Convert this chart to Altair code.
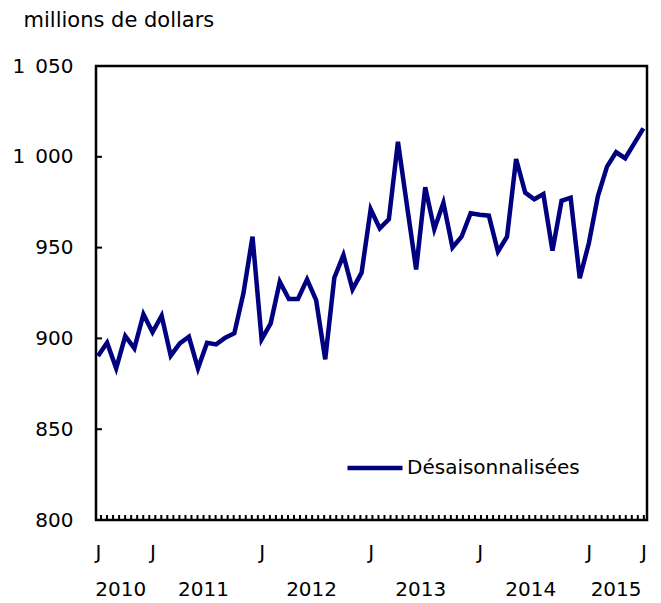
import altair as alt
import pandas as pd

# ---- data ----
values = [890.3, 897.6, 883.5, 901.3, 894.5, 913.3, 903.4, 912.5, 890.5, 897.3,
          900.9, 883.5, 897.6, 896.7, 900.4, 902.8, 924.8, 956.0, 899.5, 908.3,
          931.2, 921.7, 921.7, 932.5, 921.1, 888.5, 933.4, 945.9, 927.0, 936.2,
          971.1, 960.6, 965.6, 1008.3, 973.0, 938.0, 983.2, 960.1, 974.7, 950.1,
          956.0, 968.9, 968.1, 967.6, 947.8, 956.0, 998.8, 980.3, 976.6, 979.5,
          948.3, 975.8, 977.5, 933.1, 952.4, 978.4, 994.6, 1002.5, 999.2, 1007.4,
          1015.7]
months = list(range(len(values)))
j_ticks = [0, 6, 18, 30, 42, 54, 60]
years = ["2010", "2011", "2012", "2013", "2014", "2015"]
year_pos = [2.5, 11.6, 23.5, 35.5, 47.6, 57.0]
y_ticks = [800, 850, 900, 950, 1000, 1050]
inner_y_ticks = [850, 900, 950, 1000]
minor_ticks = [round(0.33 + k * 0.6636, 3) for k in range(91)]
series_name = "Désaisonnalisées"
y_title = "millions de dollars"

W, H = 551, 454
FONT = "DejaVu Sans"
FS = 20
COLOR = "#000080"

df = pd.DataFrame({"m": months, "v": values, "s": series_name})
xs = alt.Scale(domain=[-0.22, 60.4], nice=False, zero=False)
ys = alt.Scale(domain=[800, 1050], nice=False, zero=False)

line = alt.Chart(df).mark_line(strokeWidth=4.5, strokeJoin="miter").encode(
    x=alt.X("m:Q", scale=xs, axis=alt.Axis(
        values=j_ticks, labelExpr="'J'", ticks=False, domain=False, grid=False,
        labelPadding=22, labelFontSize=FS, labelFont=FONT, labelColor="black",
        labelFlush=False, title=None)),
    y=alt.Y("v:Q", scale=ys, axis=alt.Axis(
        values=y_ticks,
        labelExpr="replace(format(datum.value, ','), ',', '\u2002')",
        ticks=False, domain=False, grid=False, labelPadding=23,
        labelFontSize=FS, labelFont=FONT, labelColor="black",
        title=y_title, titleAngle=0, titleX=-73, titleY=-40, titleAlign="left",
        titleBaseline="alphabetic", titleFont=FONT, titleFontSize=21,
        titleFontWeight="normal", titleColor="black")),
    color=alt.Color("s:N", scale=alt.Scale(range=[COLOR]), legend=alt.Legend(
        title=None, orient="none", legendX=249, legendY=372, padding=0,
        symbolType="stroke", symbolSize=3025, symbolStrokeWidth=4.5,
        labelFont=FONT, labelFontSize=FS, labelColor="black", labelOffset=2,
        labelLimit=0)),
)

xt = alt.Chart(pd.DataFrame({"t": minor_ticks})).mark_rule(
    color="black", strokeWidth=2).encode(
    x=alt.X("t:Q", scale=xs), y=alt.value(H - 5), y2=alt.value(H))

yt = alt.Chart(pd.DataFrame({"t": inner_y_ticks})).mark_rule(
    color="black", strokeWidth=2).encode(
    y=alt.Y("t:Q", scale=ys), x=alt.value(0), x2=alt.value(6))

yr = alt.Chart(pd.DataFrame({"p": year_pos, "y": years})).mark_text(
    font=FONT, fontSize=FS, color="black", baseline="middle").encode(
    x=alt.X("p:Q", scale=xs), y=alt.value(H + 70), text="y:N")

chart = alt.layer(line, xt, yt, yr).properties(
    width=W, height=H,
    autosize=alt.AutoSizeParams(type="none"),
    padding={"left": 88, "top": 58, "right": 6, "bottom": 80},
).configure_view(stroke="black", strokeWidth=2.5)

chart.save("out.html", embed_options={"renderer": "svg", "actions": False})
